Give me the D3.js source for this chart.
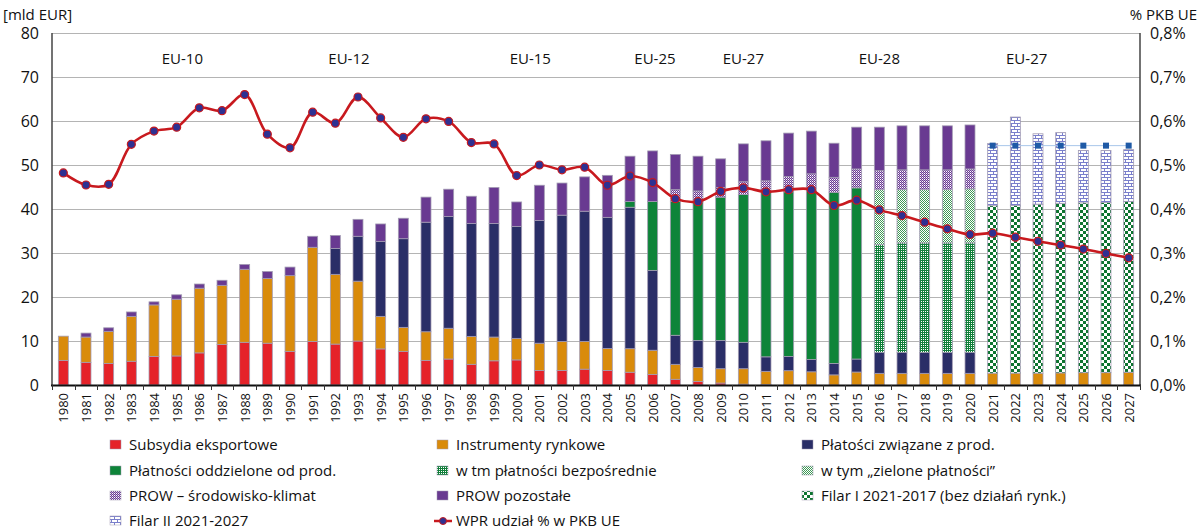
<!DOCTYPE html>
<html><head><meta charset="utf-8">
<script src="https://cdn.jsdelivr.net/npm/d3@7"></script>
<style>
html,body{margin:0;padding:0;background:#fff;}
svg{display:block;font-family:"Open Sans",sans-serif;}
</style></head>
<body><svg id="chart" width="1200" height="531"></svg>
<script>
const years = d3.range(1980, 2028);
const Z = (n) => Array(n).fill(0);

const subsydia = [5.6,5.15,4.9,5.4,6.5,6.6,7.3,9.2,9.7,9.5,7.65,9.9,9.3,10.0,8.2,7.65,5.6,5.9,4.7,5.5,5.7,3.3,3.3,3.6,3.3,2.9,2.4,1.3,0.8,0.45,0.2,0.1, ...Z(16)];
const instrumenty = [5.5,5.75,7.3,10.2,11.7,12.9,14.7,13.45,16.6,14.7,17.2,21.4,15.85,13.6,7.4,5.45,6.5,7.0,6.35,5.4,4.9,6.2,6.6,6.3,5.0,5.35,5.5,3.4,3.2,3.25,3.5,3.0,3.25,3.0,2.3,2.95,2.65,2.65,2.65,2.65,2.65,2.7,2.7,2.7,2.75,2.8,2.8,2.9];
const zwiazane = [...Z(12),5.9,10.2,17.05,20.15,24.9,25.4,25.65,25.8,25.45,27.9,28.7,29.6,29.8,32.15,18.15,6.6,6.1,6.4,6.0,3.3,3.25,2.8,2.6,2.95,4.75,4.75,4.75,4.75,4.75, ...Z(7)];
const oddzielone = [...Z(25),1.3,15.65,30.45,31.5,32.6,33.6,37.5,37.4,38.3,38.9,38.9, ...Z(12)];
const bezposrednie = [...Z(36),24.5,24.9,24.9,24.9,24.9, ...Z(7)];
const zielone = [...Z(36),12.5,12.1,12.1,12.1,12.3, ...Z(7)];
const filarI = [...Z(41),38.05,38.1,38.4,38.55,38.6,38.7,38.8];
const prowSrod = [...Z(27),2.65,2.5,2.2,2.9,2.5,3.45,3.9,3.4,4.3,4.3,4.5,4.5,4.5,4.5, ...Z(7)];
const prowPoz = [0,0.9,0.8,1.0,0.7,1.0,0.95,1.15,1.1,1.6,1.95,2.5,2.95,3.85,3.95,4.65,5.7,6.2,6.2,8.2,5.55,8.0,7.3,7.8,9.55,10.3,11.5,8.0,7.9,6.5,8.6,9.1,9.9,9.7,7.75,9.5,9.9,10.0,10.0,10.0,10.0, ...Z(7)];
const filarII = [...Z(41),14.15,20.1,16.0,16.05,11.9,11.8,11.8];
const wprPkb = [0.482,0.4545,0.456,0.547,0.577,0.586,0.630,0.6235,0.660,0.570,0.539,0.620,0.595,0.6545,0.607,0.563,0.605,0.599,0.551,0.548,0.476,0.500,0.489,0.495,0.454,0.475,0.460,0.4235,0.4167,0.440,0.448,0.439,0.444,0.444,0.408,0.420,0.398,0.385,0.370,0.355,0.342,0.345,0.336,0.3265,0.318,0.309,0.299,0.289];
const pulapYears = [2021,2022,2023,2024,2025,2026,2027];
const pulapValues = [54.4,54.4,54.4,54.4,54.4,54.4,54.4];

const leftTicks = [0,10,20,30,40,50,60,70,80];
const rightTicks = [0,0.1,0.2,0.3,0.4,0.5,0.6,0.7,0.8];
const eraLabels = ["EU-10","EU-12","EU-15","EU-25","EU-27","EU-28","EU-27"];
const eraCenters = [1985.25,1992.6,2000.6,2006.1,2010,2016,2022.5];

const seriesNames = ["Subsydia eksportowe","Instrumenty rynkowe","Płatości związane z prod.","Płatności oddzielone od prod.","w tm płatności bezpośrednie","w tym „zielone płatności”","Filar I 2021-2017 (bez działań rynk.)","PROW – środowisko-klimat","PROW pozostałe","Filar II 2021-2027"];
const seriesData = [subsydia,instrumenty,zwiazane,oddzielone,bezposrednie,zielone,filarI,prowSrod,prowPoz,filarII];
const seriesFill = ["#e52229","#d98b0b","#2a2e67","#0e8439","url(#pBez)","url(#pZiel)","url(#pFil1)","url(#pProw)","#693a91","url(#pFil2)"];
const legendOrder = [0,1,2,3,4,5,7,8,6,9];
const lineName = "WPR udział % w PKB UE";

const svg = d3.select("#chart");
const m = {l:52, r:1140, t:33, b:385};

// patterns
const defs = svg.append("defs");
function pat(id, w, h, bg, rects){
  const p = defs.append("pattern").attr("id",id).attr("patternUnits","userSpaceOnUse").attr("width",w).attr("height",h);
  p.append("rect").attr("width",w).attr("height",h).attr("fill",bg).attr("shape-rendering","crispEdges");
  rects.forEach(r => p.append("rect").attr("x",r[0]).attr("y",r[1]).attr("width",r[2]).attr("height",r[3]).attr("fill",r[4]).attr("shape-rendering","crispEdges"));
}
pat("pBez",2,2,"#11803a",[[1,1,1,1,"#ffffff"]]);
pat("pZiel",2,2,"#ffffff",[[0,0,1,1,"#3d9a55"],[1,1,1,1,"#3d9a55"]]);
pat("pFil1",6,6,"#ffffff",[[0,0,3,3,"#0d7430"],[3,3,3,3,"#0d7430"]]);
pat("pProw",2,2,"#ffffff",[[0,0,1,1,"#6a3a92"],[1,1,1,1,"#6a3a92"],[1,0,1,1,"#b9a3d0"]]);
pat("pFil2",6,6,"#ffffff",[[0,0,6,1,"#7a7fcc"],[0,3,6,1,"#7a7fcc"],[0,0,1,3,"#7a7fcc"],[3,3,1,3,"#7a7fcc"]]);

const x = d3.scaleBand().domain(years).range([m.l, m.r]).paddingInner(0.56).paddingOuter(0.28);
const step = x.step();
const y = d3.scaleLinear().domain([0,80]).range([m.b, m.t]);
const y2 = d3.scaleLinear().domain([0,0.8]).range([m.b, m.t]);
const xc = yr => x(yr) + x.bandwidth()/2;
const xPos = d3.scaleLinear().domain([years[0], years[years.length-1]]).range([xc(years[0]), xc(years[years.length-1])]);

// grid
svg.append("g").selectAll("line").data(leftTicks.filter(d=>d>0)).join("line")
  .attr("x1",m.l).attr("x2",m.r).attr("y1",d=>Math.round(y(d))+0.5).attr("y2",d=>Math.round(y(d))+0.5)
  .attr("stroke","#b4b4b4").attr("stroke-width",1);

// era labels
svg.append("g").selectAll("text").data(eraLabels).join("text")
  .attr("x",(d,i)=>xPos(eraCenters[i])).attr("y",64).attr("text-anchor","middle")
  .attr("font-size",15).attr("fill","#111").text(d=>d);

// stacked bars
const rows = years.map((yr,i)=>{ const o={year:yr}; seriesData.forEach((s,k)=>o["s"+k]=s[i]); return o;});
const stack = d3.stack().keys(seriesData.map((s,k)=>"s"+k))(rows);
const gb = svg.append("g");
stack.forEach((layer,k)=>{
  gb.append("g").selectAll("rect").data(layer.filter(d=>d[1]-d[0]>0)).join("rect")
    .attr("x",d=>x(d.data.year)).attr("width",x.bandwidth())
    .attr("y",d=>y(d[1])).attr("height",d=>y(d[0])-y(d[1]))
    .attr("fill",seriesFill[k]).attr("stroke","#a39cb3").attr("stroke-width",0.8);
});

// ceiling line 2021-2027
const pul = pulapYears.map((yr,i)=>({yr, v:pulapValues[i]}));
svg.append("path").datum(pul).attr("fill","none").attr("stroke","#a9c6ea").attr("stroke-width",1)
  .attr("d",d3.line().x(d=>xc(d.yr)).y(d=>y(d.v)));
svg.append("g").selectAll("rect").data(pul).join("rect")
  .attr("x",d=>xc(d.yr)-3).attr("y",d=>y(d.v)-3).attr("width",6).attr("height",6).attr("fill","#1f5aa6");

// axes lines
svg.append("line").attr("x1",m.l).attr("x2",m.l).attr("y1",m.t).attr("y2",m.b).attr("stroke","#444").attr("stroke-width",1.5);
svg.append("line").attr("x1",m.r).attr("x2",m.r).attr("y1",m.t).attr("y2",m.b).attr("stroke","#444").attr("stroke-width",1.5);
svg.append("line").attr("x1",m.l-1).attr("x2",m.r+1).attr("y1",m.b+0.5).attr("y2",m.b+0.5).attr("stroke","#111").attr("stroke-width",2);
// x tick marks at band edges
svg.append("g").selectAll("line").data(d3.range(years.length+1)).join("line")
  .attr("x1",i=>Math.round(m.l+i*step)+0.5).attr("x2",i=>Math.round(m.l+i*step)+0.5)
  .attr("y1",m.b).attr("y2",m.b+5).attr("stroke","#333").attr("stroke-width",1);

// WPR line
const lineData = years.map((yr,i)=>({yr, v:wprPkb[i]}));
svg.append("path").datum(lineData).attr("fill","none").attr("stroke","#c8191e").attr("stroke-width",2.6)
  .attr("d",d3.line().x(d=>xc(d.yr)).y(d=>y2(d.v)).curve(d3.curveCatmullRom.alpha(0.5)));
svg.append("g").selectAll("circle").data(lineData).join("circle")
  .attr("cx",d=>xc(d.yr)).attr("cy",d=>y2(d.v)).attr("r",4)
  .attr("fill","#2e3192").attr("stroke","#c8191e").attr("stroke-width",1.2);

// left axis labels
svg.append("g").selectAll("text").data(leftTicks).join("text")
  .attr("x",39).attr("y",d=>y(d)+6).attr("text-anchor","end").attr("font-size",16).attr("fill","#111").text(d=>d);
// right axis labels
svg.append("g").selectAll("text").data(rightTicks).join("text")
  .attr("x",1150).attr("y",d=>y2(d)+6).attr("text-anchor","start").attr("font-size",16).attr("fill","#111")
  .text(d=>d.toFixed(1).replace(".",",")+"%");
svg.append("text").attr("x",3).attr("y",20).attr("font-size",15).attr("fill","#111").text("[mld EUR]");
svg.append("text").attr("x",1197).attr("y",20).attr("text-anchor","end").attr("font-size",15).attr("fill","#111").text("% PKB UE");

// x labels
svg.append("g").selectAll("text").data(years).join("text")
  .attr("transform",d=>`translate(${xc(d)+5},${m.b+8}) rotate(-90)`)
  .attr("text-anchor","end").attr("font-size",13).attr("fill","#111").text(d=>d);

// legend
const colX = [110,437,802];
const rowY = [445,471,496,521];
const lg = svg.append("g");
legendOrder.forEach((k,i)=>{
  const cx = colX[i%3], cy = rowY[Math.floor(i/3)];
  lg.append("rect").attr("x",cx).attr("y",cy-5).attr("width",11).attr("height",9).attr("fill",seriesFill[k]).attr("stroke","#a39cb3").attr("stroke-width",0.5);
  lg.append("text").attr("x",cx+19).attr("y",cy+5).attr("font-size",15).attr("fill","#111").text(seriesNames[k]);
});
{
  const i = legendOrder.length; const cx = colX[i%3], cy = rowY[Math.floor(i/3)];
  lg.append("line").attr("x1",cx-3).attr("x2",cx+15).attr("y1",cy).attr("y2",cy).attr("stroke","#c8191e").attr("stroke-width",2.5);
  lg.append("circle").attr("cx",cx+6).attr("cy",cy).attr("r",3.5).attr("fill","#2e3192").attr("stroke","#c8191e").attr("stroke-width",1);
  lg.append("text").attr("x",cx+19).attr("y",cy+5).attr("font-size",15).attr("fill","#111").text(lineName);
}
</script></body></html>
